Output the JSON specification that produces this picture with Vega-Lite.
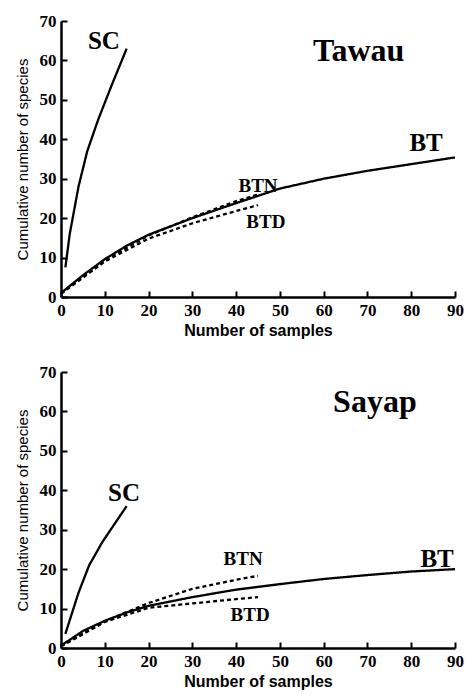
{
  "$schema": "https://vega.github.io/schema/vega-lite/v6.json",
  "background": "white",
  "padding": {"left": 15, "top": 12, "right": 2, "bottom": 2},
  "spacing": 25,
  "config": {"view": {"stroke": null}},
  "datasets": {
    "curves": [
      {"panel": "Tawau", "series": "SC", "dash": "solid", "x": 1, "y": 7.5},
      {"panel": "Tawau", "series": "SC", "dash": "solid", "x": 2, "y": 16},
      {"panel": "Tawau", "series": "SC", "dash": "solid", "x": 4, "y": 28},
      {"panel": "Tawau", "series": "SC", "dash": "solid", "x": 6, "y": 37},
      {"panel": "Tawau", "series": "SC", "dash": "solid", "x": 8.5, "y": 45},
      {"panel": "Tawau", "series": "SC", "dash": "solid", "x": 11.5, "y": 53.5},
      {"panel": "Tawau", "series": "SC", "dash": "solid", "x": 15, "y": 63},
      {"panel": "Tawau", "series": "BT", "dash": "solid", "x": 0, "y": 1},
      {"panel": "Tawau", "series": "BT", "dash": "solid", "x": 5, "y": 5.5},
      {"panel": "Tawau", "series": "BT", "dash": "solid", "x": 10, "y": 9.6},
      {"panel": "Tawau", "series": "BT", "dash": "solid", "x": 15, "y": 13},
      {"panel": "Tawau", "series": "BT", "dash": "solid", "x": 20, "y": 15.8},
      {"panel": "Tawau", "series": "BT", "dash": "solid", "x": 30, "y": 20},
      {"panel": "Tawau", "series": "BT", "dash": "solid", "x": 40, "y": 23.8},
      {"panel": "Tawau", "series": "BT", "dash": "solid", "x": 50, "y": 27.5},
      {"panel": "Tawau", "series": "BT", "dash": "solid", "x": 60, "y": 30},
      {"panel": "Tawau", "series": "BT", "dash": "solid", "x": 70, "y": 32},
      {"panel": "Tawau", "series": "BT", "dash": "solid", "x": 80, "y": 33.7},
      {"panel": "Tawau", "series": "BT", "dash": "solid", "x": 90, "y": 35.4},
      {"panel": "Tawau", "series": "BTN", "dash": "dashed", "x": 0, "y": 1},
      {"panel": "Tawau", "series": "BTN", "dash": "dashed", "x": 10, "y": 9.4},
      {"panel": "Tawau", "series": "BTN", "dash": "dashed", "x": 20, "y": 15.6},
      {"panel": "Tawau", "series": "BTN", "dash": "dashed", "x": 30, "y": 20.2},
      {"panel": "Tawau", "series": "BTN", "dash": "dashed", "x": 40, "y": 24.3},
      {"panel": "Tawau", "series": "BTN", "dash": "dashed", "x": 45, "y": 26},
      {"panel": "Tawau", "series": "BTD", "dash": "dashed", "x": 0, "y": 0.8},
      {"panel": "Tawau", "series": "BTD", "dash": "dashed", "x": 10, "y": 9},
      {"panel": "Tawau", "series": "BTD", "dash": "dashed", "x": 20, "y": 14.8},
      {"panel": "Tawau", "series": "BTD", "dash": "dashed", "x": 30, "y": 18.7},
      {"panel": "Tawau", "series": "BTD", "dash": "dashed", "x": 40, "y": 21.8},
      {"panel": "Tawau", "series": "BTD", "dash": "dashed", "x": 45, "y": 23.3},
      {"panel": "Sayap", "series": "SC", "dash": "solid", "x": 1, "y": 3.6},
      {"panel": "Sayap", "series": "SC", "dash": "solid", "x": 4, "y": 14},
      {"panel": "Sayap", "series": "SC", "dash": "solid", "x": 6.4, "y": 20.9},
      {"panel": "Sayap", "series": "SC", "dash": "solid", "x": 9.4, "y": 26.8},
      {"panel": "Sayap", "series": "SC", "dash": "solid", "x": 12.5, "y": 31.9},
      {"panel": "Sayap", "series": "SC", "dash": "solid", "x": 15, "y": 36},
      {"panel": "Sayap", "series": "BT", "dash": "solid", "x": 0, "y": 0.6},
      {"panel": "Sayap", "series": "BT", "dash": "solid", "x": 5, "y": 4.3},
      {"panel": "Sayap", "series": "BT", "dash": "solid", "x": 10, "y": 6.9},
      {"panel": "Sayap", "series": "BT", "dash": "solid", "x": 15, "y": 9},
      {"panel": "Sayap", "series": "BT", "dash": "solid", "x": 20, "y": 10.7},
      {"panel": "Sayap", "series": "BT", "dash": "solid", "x": 30, "y": 12.9},
      {"panel": "Sayap", "series": "BT", "dash": "solid", "x": 40, "y": 14.8},
      {"panel": "Sayap", "series": "BT", "dash": "solid", "x": 50, "y": 16.2},
      {"panel": "Sayap", "series": "BT", "dash": "solid", "x": 60, "y": 17.5},
      {"panel": "Sayap", "series": "BT", "dash": "solid", "x": 70, "y": 18.5},
      {"panel": "Sayap", "series": "BT", "dash": "solid", "x": 80, "y": 19.4},
      {"panel": "Sayap", "series": "BT", "dash": "solid", "x": 90, "y": 20},
      {"panel": "Sayap", "series": "BTN", "dash": "dashed", "x": 0, "y": 0.5},
      {"panel": "Sayap", "series": "BTN", "dash": "dashed", "x": 10, "y": 6.8},
      {"panel": "Sayap", "series": "BTN", "dash": "dashed", "x": 20, "y": 11.4},
      {"panel": "Sayap", "series": "BTN", "dash": "dashed", "x": 30, "y": 15},
      {"panel": "Sayap", "series": "BTN", "dash": "dashed", "x": 40, "y": 17.3},
      {"panel": "Sayap", "series": "BTN", "dash": "dashed", "x": 45, "y": 18.3},
      {"panel": "Sayap", "series": "BTD", "dash": "dashed", "x": 0, "y": 0.4},
      {"panel": "Sayap", "series": "BTD", "dash": "dashed", "x": 10, "y": 6.6},
      {"panel": "Sayap", "series": "BTD", "dash": "dashed", "x": 20, "y": 10.2},
      {"panel": "Sayap", "series": "BTD", "dash": "dashed", "x": 30, "y": 11.3},
      {"panel": "Sayap", "series": "BTD", "dash": "dashed", "x": 40, "y": 12.4},
      {"panel": "Sayap", "series": "BTD", "dash": "dashed", "x": 45, "y": 12.9}
    ],
    "labels": [
      {"panel": "Tawau", "text": "SC", "kind": "series", "x": 9.8, "y": 65},
      {"panel": "Tawau", "text": "BT", "kind": "series", "x": 83.4, "y": 39},
      {"panel": "Tawau", "text": "BTN", "kind": "small", "x": 45, "y": 28.2},
      {"panel": "Tawau", "text": "BTD", "kind": "small", "x": 46.8, "y": 18.9},
      {"panel": "Sayap", "text": "SC", "kind": "series", "x": 14.4, "y": 39.3},
      {"panel": "Sayap", "text": "BT", "kind": "series", "x": 85.9, "y": 22.6},
      {"panel": "Sayap", "text": "BTN", "kind": "small", "x": 41.6, "y": 22.6},
      {"panel": "Sayap", "text": "BTD", "kind": "small", "x": 43.2, "y": 8.4}
    ],
    "titles": [
      {"panel": "Tawau", "text": "Tawau", "x": 68, "y": 62.4},
      {"panel": "Sayap", "text": "Sayap", "x": 71.7, "y": 62.4}
    ]
  },
  "vconcat": [
    {
      "width": 394,
      "height": 276,
      "encoding": {
        "x": {"field": "x", "type": "quantitative", "scale": {"domain": [0, 90], "nice": false},
          "axis": {"values": [0,10,20,30,40,50,60,70,80,90], "title": "Number of samples",
            "grid": false, "domainColor": "black", "domainWidth": 2.5, "tickColor": "black", "tickWidth": 2, "tickSize": -6,
            "labelFont": "Liberation Serif", "labelFontWeight": "bold", "labelFontSize": 17, "labelColor": "black",
            "labelOverlap": false, "labelFlush": false, "labelBound": false, "labelPadding": 11,
            "titleFont": "Liberation Sans", "titleFontSize": 16, "titleColor": "black", "titleFontWeight": "bold", "titlePadding": 4}},
        "y": {"field": "y", "type": "quantitative", "scale": {"domain": [0, 70], "nice": false},
          "axis": {"values": [0,10,20,30,40,50,60,70], "title": "Cumulative number of  species",
            "grid": false, "domainColor": "black", "domainWidth": 2.5, "tickColor": "black", "tickWidth": 2, "tickSize": -6,
            "labelFont": "Liberation Serif", "labelFontWeight": "bold", "labelFontSize": 17, "labelColor": "black",
            "labelOverlap": false, "labelFlush": false, "labelBound": false, "labelPadding": 11,
            "titleFont": "Liberation Sans", "titleFontSize": 15, "titleColor": "black", "titleFontWeight": "normal", "titlePadding": 9}}
      },
      "layer": [
        {
          "data": {"name": "curves"},
          "transform": [{"filter": "datum.panel === 'Tawau'"}],
          "mark": {"type": "line", "color": "black", "strokeWidth": 2.3},
          "encoding": {
            "detail": {"field": "series"},
            "strokeDash": {"field": "dash", "type": "nominal", "scale": {"domain": ["solid", "dashed"], "range": [[1, 0], [4, 3]]}, "legend": null}
          }
        },
        {
          "data": {"name": "labels"},
          "transform": [{"filter": "datum.panel === 'Tawau'"}],
          "mark": {"type": "text", "font": "Liberation Serif", "fontWeight": "bold", "color": "black"},
          "encoding": {
            "text": {"field": "text"},
            "size": {"field": "kind", "type": "nominal", "scale": {"domain": ["series", "small"], "range": [25, 19]}, "legend": null}
          }
        },
        {
          "data": {"name": "titles"},
          "transform": [{"filter": "datum.panel === 'Tawau'"}],
          "mark": {"type": "text", "font": "Liberation Serif", "fontWeight": "bold", "fontSize": 32, "color": "black"},
          "encoding": {"text": {"field": "text"}}
        }
      ]
    },
    {
      "width": 394,
      "height": 276,
      "encoding": {
        "x": {"field": "x", "type": "quantitative", "scale": {"domain": [0, 90], "nice": false},
          "axis": {"values": [0,10,20,30,40,50,60,70,80,90], "title": "Number of samples",
            "grid": false, "domainColor": "black", "domainWidth": 2.5, "tickColor": "black", "tickWidth": 2, "tickSize": -6,
            "labelFont": "Liberation Serif", "labelFontWeight": "bold", "labelFontSize": 17, "labelColor": "black",
            "labelOverlap": false, "labelFlush": false, "labelBound": false, "labelPadding": 11,
            "titleFont": "Liberation Sans", "titleFontSize": 16, "titleColor": "black", "titleFontWeight": "bold", "titlePadding": 4}},
        "y": {"field": "y", "type": "quantitative", "scale": {"domain": [0, 70], "nice": false},
          "axis": {"values": [0,10,20,30,40,50,60,70], "title": "Cumulative number of  species",
            "grid": false, "domainColor": "black", "domainWidth": 2.5, "tickColor": "black", "tickWidth": 2, "tickSize": -6,
            "labelFont": "Liberation Serif", "labelFontWeight": "bold", "labelFontSize": 17, "labelColor": "black",
            "labelOverlap": false, "labelFlush": false, "labelBound": false, "labelPadding": 11,
            "titleFont": "Liberation Sans", "titleFontSize": 15, "titleColor": "black", "titleFontWeight": "normal", "titlePadding": 9}}
      },
      "layer": [
        {
          "data": {"name": "curves"},
          "transform": [{"filter": "datum.panel === 'Sayap'"}],
          "mark": {"type": "line", "color": "black", "strokeWidth": 2.3},
          "encoding": {
            "detail": {"field": "series"},
            "strokeDash": {"field": "dash", "type": "nominal", "scale": {"domain": ["solid", "dashed"], "range": [[1, 0], [4, 3]]}, "legend": null}
          }
        },
        {
          "data": {"name": "labels"},
          "transform": [{"filter": "datum.panel === 'Sayap'"}],
          "mark": {"type": "text", "font": "Liberation Serif", "fontWeight": "bold", "color": "black"},
          "encoding": {
            "text": {"field": "text"},
            "size": {"field": "kind", "type": "nominal", "scale": {"domain": ["series", "small"], "range": [25, 19]}, "legend": null}
          }
        },
        {
          "data": {"name": "titles"},
          "transform": [{"filter": "datum.panel === 'Sayap'"}],
          "mark": {"type": "text", "font": "Liberation Serif", "fontWeight": "bold", "fontSize": 32, "color": "black"},
          "encoding": {"text": {"field": "text"}}
        }
      ]
    }
  ]
}
